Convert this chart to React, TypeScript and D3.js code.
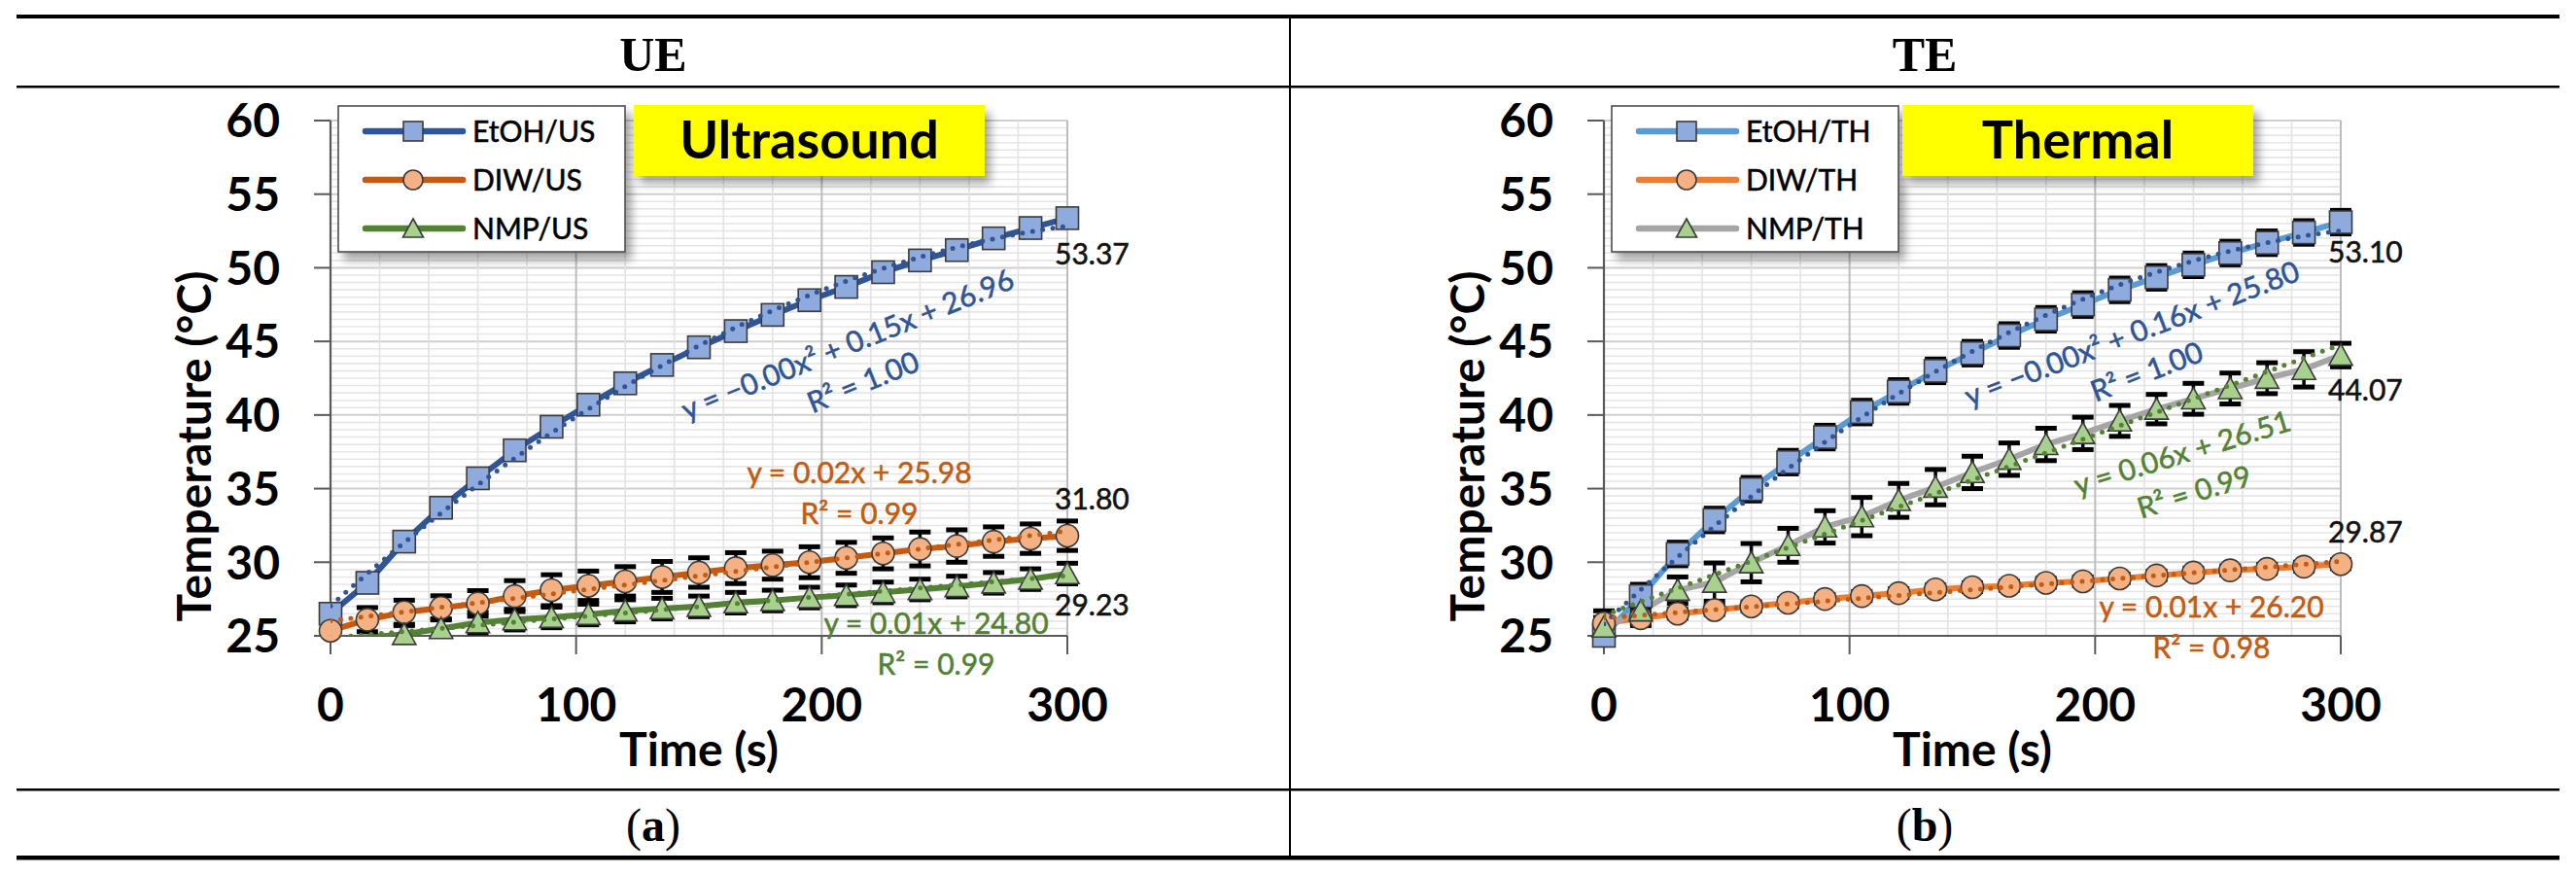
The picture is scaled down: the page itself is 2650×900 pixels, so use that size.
import React from "react";
import * as d3 from "d3";

// ---------------- DATA ----------------
const time = [0, 15, 30, 45, 60, 75, 90, 105, 120, 135, 150, 165, 180, 195, 210, 225, 240, 255, 270, 285, 300];

const etohUS = [26.5, 28.6, 31.4, 33.7, 35.7, 37.6, 39.2, 40.7, 42.15, 43.4, 44.6, 45.7, 46.8, 47.8, 48.7, 49.7, 50.5, 51.2, 52.0, 52.7, 53.37];
const diwUS = [25.35, 26.1, 26.6, 26.9, 27.2, 27.7, 28.1, 28.4, 28.7, 29.0, 29.3, 29.6, 29.8, 30.0, 30.3, 30.6, 30.9, 31.1, 31.4, 31.6, 31.8];
const nmpUS = [24.7, 24.9, 25.1, 25.5, 25.9, 26.1, 26.25, 26.45, 26.7, 26.85, 27.0, 27.25, 27.4, 27.6, 27.75, 27.95, 28.15, 28.35, 28.6, 28.85, 29.23];
const diwUSErr = [0.5, 0.82, 0.82, 0.82, 0.87, 1.05, 1.05, 1.0, 1.0, 1.05, 1.0, 1.05, 0.95, 1.05, 1.05, 1.05, 1.15, 1.1, 1.0, 1.0, 1.0];
const nmpUSErr = [0.5, 0.6, 0.6, 0.65, 0.7, 0.7, 0.7, 0.7, 0.75, 0.7, 0.7, 0.7, 0.7, 0.7, 0.7, 0.7, 0.7, 0.7, 0.7, 0.7, 0.7];

const etohTH = [25.0, 27.7, 30.56, 32.87, 34.96, 36.8, 38.5, 40.2, 41.6, 43.0, 44.2, 45.4, 46.5, 47.5, 48.5, 49.35, 50.2, 51.0, 51.7, 52.4, 53.1];
const diwTH = [25.85, 26.2, 26.5, 26.75, 27.0, 27.25, 27.5, 27.7, 27.9, 28.15, 28.3, 28.4, 28.6, 28.7, 28.9, 29.1, 29.3, 29.45, 29.55, 29.7, 29.87];
const nmpTH = [25.6, 26.7, 28.1, 28.65, 29.97, 31.15, 32.4, 33.1, 34.2, 35.1, 36.1, 37.0, 38.0, 38.75, 39.6, 40.4, 41.1, 41.8, 42.5, 43.1, 44.07];
const etohTHErr = [0.5, 0.8, 0.8, 0.8, 0.8, 0.8, 0.8, 0.8, 0.8, 0.8, 0.8, 0.8, 0.8, 0.8, 0.8, 0.8, 0.8, 0.8, 0.8, 0.8, 0.8];
const diwTHErr = [0.4, 0.35, 0.3, 0.3, 0.3, 0.3, 0.3, 0.3, 0.3, 0.3, 0.3, 0.3, 0.3, 0.3, 0.3, 0.3, 0.3, 0.3, 0.3, 0.3, 0.3];
const nmpTHErr = [1.1, 1.0, 0.9, 1.3, 1.3, 1.15, 1.1, 1.3, 1.15, 1.2, 1.1, 1.1, 1.1, 1.1, 1.05, 1.0, 1.05, 1.05, 1.05, 1.2, 0.8];

const yTicks = [25, 30, 35, 40, 45, 50, 55, 60];
const xTicks = [0, 100, 200, 300];

const namesUS = ["EtOH/US", "DIW/US", "NMP/US"];
const namesTH = ["EtOH/TH", "DIW/TH", "NMP/TH"];
const endLabelsUS = ["53.37", "31.80", "29.23"];
const endLabelsTH = ["53.10", "29.87", "44.07"];
const eqUS = [
  ["y = \u22120.00x\u00b2 + 0.15x + 26.96", "R\u00b2 = 1.00"],
  ["y = 0.02x + 25.98", "R\u00b2 = 0.99"],
  ["y = 0.01x + 24.80", "R\u00b2 = 0.99"],
];
const eqTH = [
  ["y = \u22120.00x\u00b2 + 0.16x + 25.80", "R\u00b2 = 1.00"],
  ["y = 0.01x + 26.20", "R\u00b2 = 0.98"],
  ["y = 0.06x + 26.51", "R\u00b2 = 0.99"],
];
const headers = ["UE", "TE"];
const captions = ["a", "b"];
const tags = ["Ultrasound", "Thermal"];

// ---------------- HELPERS ----------------
const SANS = "Lato, 'Open Sans', 'Noto Sans', sans-serif";
const SERIF = "'Liberation Serif', 'DejaVu Serif', serif";

function linFit(xs: number[], ys: number[]) {
  const mx = d3.mean(xs)!, my = d3.mean(ys)!;
  let sxy = 0, sxx = 0;
  xs.forEach((x, i) => { sxy += (x - mx) * (ys[i] - my); sxx += (x - mx) * (x - mx); });
  const b = sxy / sxx;
  const a = my - b * mx;
  return (x: number) => a + b * x;
}

function polyFit2(xs: number[], ys: number[]) {
  const S = (p: number) => d3.sum(xs, (x) => Math.pow(x, p));
  const T = (p: number) => d3.sum(xs.map((x, i) => Math.pow(x, p) * ys[i]));
  const M = [
    [S(0), S(1), S(2), T(0)],
    [S(1), S(2), S(3), T(1)],
    [S(2), S(3), S(4), T(2)],
  ];
  for (let i = 0; i < 3; i++) {
    for (let k = i + 1; k < 3; k++) {
      const f = M[k][i] / M[i][i];
      for (let j = i; j < 4; j++) M[k][j] -= f * M[i][j];
    }
  }
  const c = [0, 0, 0];
  for (let i = 2; i >= 0; i--) {
    let s = M[i][3];
    for (let j = i + 1; j < 3; j++) s -= M[i][j] * c[j];
    c[i] = s / M[i][i];
  }
  return (x: number) => c[0] + c[1] * x + c[2] * x * x;
}

type Series = {
  name: string;
  values: number[];
  err: number[] | null;
  line: string;
  fill: string;
  shape: "square" | "circle" | "triangle";
  trend: "poly" | "lin";
  trendColor: string;
  eq: string[];
  eqPos: { x: number; y: number; angle: number };
  end: string;
  endY: number;
};

function Marker({ shape, cx, cy, size, fill }: { shape: string; cx: number; cy: number; size: number; fill: string }) {
  const h = size / 2;
  const stroke = "#3b3b3b";
  if (shape === "square")
    return <rect x={cx - h} y={cy - h} width={size} height={size} fill={fill} stroke={stroke} strokeWidth={1.6} />;
  if (shape === "circle") return <circle cx={cx} cy={cy} r={h} fill={fill} stroke={stroke} strokeWidth={1.6} />;
  return (
    <path
      d={`M${cx},${cy - h} L${cx + h * 1.05},${cy + h * 0.9} L${cx - h * 1.05},${cy + h * 0.9} Z`}
      fill={fill}
      stroke={stroke}
      strokeWidth={1.6}
    />
  );
}

// slightly heavier regular text (Calibri-like weight)
function RText(props: any) {
  const { fill, children, ...rest } = props;
  return (
    <text {...rest} fill={fill} stroke={fill} strokeWidth={0.55} fontFamily={SANS} fontSize={props.fontSize || 30}>
      {children}
    </text>
  );
}

function Panel({ dx, series, tag, tagX, id }: { dx: number; series: Series[]; tag: string; tagX: number; id: string }) {
  const x = d3.scaleLinear().domain([0, 300]).range([340 + dx, 1098 + dx]);
  const y = d3.scaleLinear().domain([25, 60]).range([654, 124]);
  const [x0, x1] = x.range();
  const [yb, yt] = y.range();

  const minorY = d3.range(25, 60.001, 0.5);
  const minorX = d3.range(0, 300.001, 20);

  const line = d3
    .line<number>()
    .x((_, i) => x(time[i]))
    .y((v) => y(v));

  const trendXs = d3.range(0, 300.001, 2);

  return (
    <g>
      <defs>
        <clipPath id={`clip-${id}`}>
          <rect x={x0} y={yt} width={x1 - x0} height={yb - yt} />
        </clipPath>
      </defs>
      {/* gridlines */}
      {minorY.map((v) => {
        const major = Math.abs(v % 5) < 1e-6;
        return (
          <line key={"gy" + v} x1={x0} x2={x1} y1={y(v)} y2={y(v)} stroke={major ? "#cfcfcf" : "#e6e6e6"} strokeWidth={major ? 2 : 1.6} />
        );
      })}
      {minorX.map((v) => {
        const major = v % 100 === 0;
        return (
          <line key={"gx" + v} x1={x(v)} x2={x(v)} y1={yt} y2={yb} stroke={major ? "#bdbdbd" : "#e3e3e3"} strokeWidth={major ? 2 : 1.6} />
        );
      })}
      {/* axes */}
      <line x1={x0} x2={x1} y1={yb} y2={yb} stroke="#595959" strokeWidth={2.2} />
      <line x1={x0} x2={x0} y1={yt} y2={yb} stroke="#595959" strokeWidth={2.2} />
      {yTicks.map((t) => (
        <g key={"yt" + t}>
          <line x1={x0 - 17} x2={x0} y1={y(t)} y2={y(t)} stroke="#595959" strokeWidth={2} />
          <text x={288 + dx} y={y(t)} dy="0.36em" textAnchor="end" fontFamily={SANS} fontWeight={700} fontSize={48} fill="#000">
            {t}
          </text>
        </g>
      ))}
      {xTicks.map((t) => (
        <g key={"xt" + t}>
          <line x1={x(t)} x2={x(t)} y1={yb} y2={yb + 19} stroke="#595959" strokeWidth={2} />
          <text x={x(t)} y={742} textAnchor="middle" fontFamily={SANS} fontWeight={700} fontSize={48} fill="#000">
            {t}
          </text>
        </g>
      ))}
      <text x={719 + dx} y={788} textAnchor="middle" fontFamily={SANS} fontWeight={700} fontSize={48} fill="#000">
        Time (s)
      </text>
      <text
        transform={`translate(${217 + dx},459) rotate(-90)`}
        textAnchor="middle"
        fontFamily={SANS}
        fontWeight={700}
        fontSize={48}
        fill="#000"
      >
        Temperature (°C)
      </text>

      {/* series lines */}
      <g clipPath={`url(#clip-${id})`}>
        {series.map((s) => (
          <path key={"l" + s.name} d={line(s.values) || ""} fill="none" stroke={s.line} strokeWidth={6} strokeLinejoin="round" />
        ))}
      </g>
      {/* error bars */}
      {series.map((s) =>
        s.err
          ? s.values.map((v, i) => {
              if (v < 25) return null;
              const cx = x(time[i]);
              const top = y(Math.min(60, v + s.err![i]));
              const bot = y(Math.max(25, v - s.err![i]));
              return (
                <g key={"e" + s.name + i}>
                  <line x1={cx} x2={cx} y1={top} y2={bot} stroke="#000" strokeWidth={3.5} />
                  {v + s.err![i] <= 60 && <line x1={cx - 11} x2={cx + 11} y1={top} y2={top} stroke="#000" strokeWidth={5} />}
                  {v - s.err![i] >= 25 && <line x1={cx - 11} x2={cx + 11} y1={bot} y2={bot} stroke="#000" strokeWidth={5} />}
                </g>
              );
            })
          : null
      )}
      {/* markers */}
      {series.map((s) =>
        s.values.map((v, i) =>
          v >= 25 && v <= 60 ? <Marker key={"m" + s.name + i} shape={s.shape} cx={x(time[i])} cy={y(v)} size={23} fill={s.fill} /> : null
        )
      )}
      {/* trendlines */}
      <g clipPath={`url(#clip-${id})`}>
        {series.map((s) => {
          const f = s.trend === "poly" ? polyFit2(time, s.values) : linFit(time, s.values);
          const p = d3
            .line<number>()
            .x((t) => x(t))
            .y((t) => y(f(t)))(trendXs);
          return (
            <path
              key={"t" + s.name}
              d={p || ""}
              fill="none"
              stroke={s.trendColor}
              strokeWidth={5}
              strokeDasharray="0 10.5"
              strokeLinecap="round"
            />
          );
        })}
      </g>
      {/* equation labels */}
      {series.map((s) => (
        <g key={"eq" + s.name} transform={`translate(${s.eqPos.x + dx},${s.eqPos.y}) rotate(${s.eqPos.angle})`}>
          <RText x={0} y={0} textAnchor="middle" fill={s.trendColor}>
            {s.eq[0]}
          </RText>
          <RText x={0} y={42} textAnchor="middle" fill={s.trendColor}>
            {s.eq[1]}
          </RText>
        </g>
      ))}
      {/* end labels */}
      {series.map((s) => (
        <RText key={"end" + s.name} x={1085 + dx} y={s.endY} fill="#111">
          {s.end}
        </RText>
      ))}

      {/* legend */}
      <rect x={348 + dx} y={109} width={295} height={150} fill="#fff" stroke="#4d4d4d" strokeWidth={1.6} filter="url(#shadow)" />
      {series.map((s, i) => {
        const ry = 135 + i * 50;
        return (
          <g key={"lg" + s.name}>
            <line x1={376 + dx} x2={476 + dx} y1={ry} y2={ry} stroke={s.line} strokeWidth={6.5} strokeLinecap="round" />
            <Marker shape={s.shape} cx={425 + dx} cy={ry} size={20} fill={s.fill} />
            <RText x={486 + dx} y={ry + 10.5} fill="#000">
              {s.name}
            </RText>
          </g>
        );
      })}
      {/* tag box */}
      <rect x={tagX + dx} y={108} width={361} height={73} fill="#ffff00" filter="url(#shadow)" />
      <text x={tagX + dx + 180.5} y={163} textAnchor="middle" fontFamily={SANS} fontWeight={700} fontSize={54} fill="#000">
        {tag}
      </text>
    </g>
  );
}

export default function App() {
  const seriesUS: Series[] = [
    {
      name: namesUS[0], values: etohUS, err: null, line: "#2f5597", fill: "#8faadc", shape: "square",
      trend: "poly", trendColor: "#2f5597", eq: eqUS[0], eqPos: { x: 876, y: 364, angle: -22 }, end: endLabelsUS[0], endY: 272,
    },
    {
      name: namesUS[1], values: diwUS, err: diwUSErr, line: "#c55a11", fill: "#f4b183", shape: "circle",
      trend: "lin", trendColor: "#c55a11", eq: eqUS[1], eqPos: { x: 884, y: 497, angle: 0 }, end: endLabelsUS[1], endY: 524,
    },
    {
      name: namesUS[2], values: nmpUS, err: nmpUSErr, line: "#548235", fill: "#a9d18e", shape: "triangle",
      trend: "lin", trendColor: "#548235", eq: eqUS[2], eqPos: { x: 963, y: 652, angle: 0 }, end: endLabelsUS[2], endY: 633,
    },
  ];
  const seriesTH: Series[] = [
    {
      name: namesTH[0], values: etohTH, err: etohTHErr, line: "#5b9bd5", fill: "#8faadc", shape: "square",
      trend: "poly", trendColor: "#2f5597", eq: eqTH[0], eqPos: { x: 887, y: 353, angle: -21 }, end: endLabelsTH[0], endY: 270,
    },
    {
      name: namesTH[1], values: diwTH, err: diwTHErr, line: "#ed7d31", fill: "#f4b183", shape: "circle",
      trend: "lin", trendColor: "#c55a11", eq: eqTH[1], eqPos: { x: 965, y: 635, angle: 0 }, end: endLabelsTH[1], endY: 558,
    },
    {
      name: namesTH[2], values: nmpTH, err: nmpTHErr, line: "#a5a5a5", fill: "#a9d18e", shape: "triangle",
      trend: "lin", trendColor: "#548235", eq: eqTH[2], eqPos: { x: 938, y: 476, angle: -17 }, end: endLabelsTH[2], endY: 412,
    },
  ];
  const DX = 1310;
  const L = 17, R = 2633, MID = 1327;
  const colC = [(L + MID) / 2, (MID + R) / 2];

  return (
    <div style={{ position: "absolute", left: 0, top: 0 }}>
      <svg width={2650} height={900} viewBox="0 0 2650 900" style={{ display: "block", background: "#fff" }}>
        <defs>
          <filter id="shadow" x="-10%" y="-20%" width="130%" height="150%">
            <feDropShadow dx="6" dy="8" stdDeviation="5" floodColor="#000" floodOpacity="0.35" />
          </filter>
        </defs>
        <rect x={0} y={0} width={2650} height={900} fill="#fff" />
        {/* table rules */}
        <rect x={L} y={15} width={R - L} height={4} fill="#000" />
        <rect x={L} y={88} width={R - L} height={2.5} fill="#000" />
        <rect x={L} y={811} width={R - L} height={2.5} fill="#000" />
        <rect x={L} y={880} width={R - L} height={4.5} fill="#000" />
        <rect x={MID - 1} y={15} width={2} height={869} fill="#000" />
        {headers.map((h, i) => (
          <text key={h} x={colC[i]} y={73} textAnchor="middle" fontFamily={SERIF} fontWeight={700} fontSize={50} fill="#000">
            {h}
          </text>
        ))}
        {captions.map((c, i) => (
          <text key={c} x={colC[i]} y={865} textAnchor="middle" fontFamily={SERIF} fontSize={48} fill="#000">
            (<tspan fontWeight={700}>{c}</tspan>)
          </text>
        ))}
        <Panel dx={0} series={seriesUS} tag={tags[0]} tagX={652} id="us" />
        <Panel dx={DX} series={seriesTH} tag={tags[1]} tagX={647} id="th" />
      </svg>
    </div>
  );
}
